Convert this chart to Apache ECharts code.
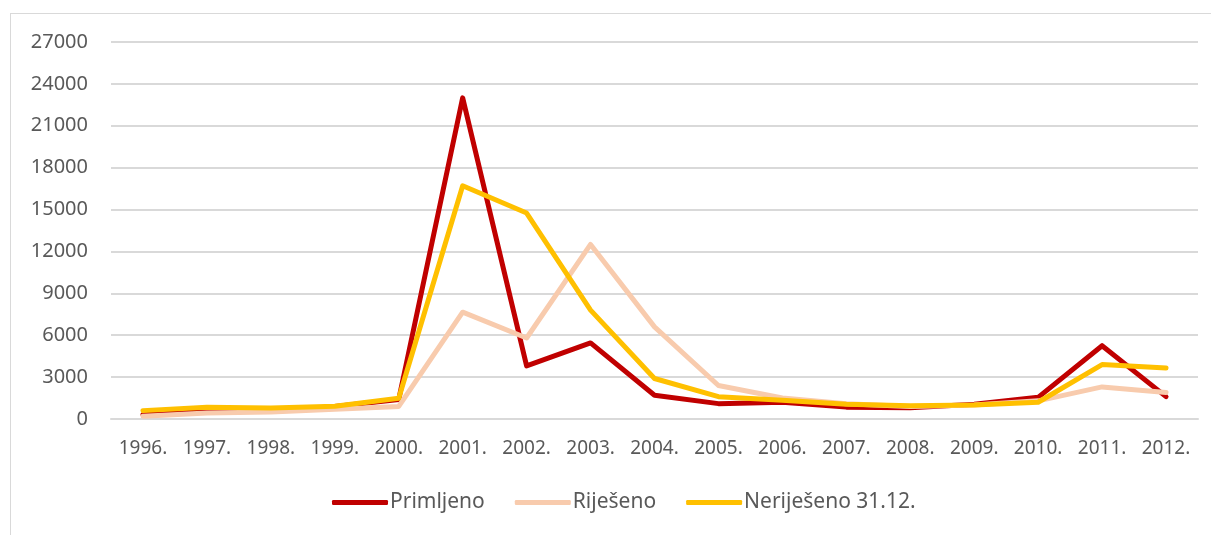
<!DOCTYPE html>
<html>
<head>
<meta charset="utf-8">
<script src="https://cdn.jsdelivr.net/npm/echarts@6/dist/echarts.min.js"></script>
<style>
  html, body { margin: 0; padding: 0; background: #fff; }
  #frame { position: absolute; left: 10px; top: 13px; width: 1220px; height: 540px; border: 1px solid #d9d9d9; }
  #main { position: absolute; left: 0; top: 0; width: 1211px; height: 535px; }
</style>
</head>
<body>
<div id="frame"></div>
<div id="main"></div>
<script>
// years on the x axis
const years = ["1996.", "1997.", "1998.", "1999.", "2000.", "2001.", "2002.", "2003.", "2004.",
  "2005.", "2006.", "2007.", "2008.", "2009.", "2010.", "2011.", "2012."];

const primljeno = [300, 550, 550, 900, 1400, 23000, 3800, 5450, 1700, 1100, 1200, 850, 800, 1050, 1550, 5250, 1600];
const rijeseno = [200, 430, 500, 700, 900, 7650, 5800, 12500, 6600, 2400, 1500, 1100, 900, 1000, 1300, 2300, 1900];
const nerijeseno = [600, 850, 780, 920, 1480, 16700, 14750, 7800, 2900, 1600, 1350, 1050, 950, 1000, 1200, 3900, 3650];

const names = ["Primljeno", "Riješeno", "Neriješeno 31.12."];
const colors = ["#C00000", "#F8CBAD", "#FFC000"];

const chart = echarts.init(document.getElementById("main"));

function lineSeries(name, data) {
  return {
    name: name,
    type: "line",
    data: data,
    symbol: "none",
    lineStyle: { width: 5, cap: "round", join: "round" },
    emphasis: { disabled: true }
  };
}

chart.setOption({
  animation: false,
  color: colors,
  textStyle: { fontFamily: "Noto Sans", color: "#595959" },
  grid: { left: 111, right: 13, top: 42, bottom: 116 },
  legend: {
    data: names,
    bottom: 17,
    left: 327,
    icon: "roundRect",
    itemWidth: 56,
    itemHeight: 5,
    itemGap: 30,
    textStyle: { fontSize: 21, color: "#595959", padding: [0, 0, 0, -3] }
  },
  xAxis: {
    type: "category",
    data: years,
    boundaryGap: true,
    axisLine: { lineStyle: { color: "#d9d9d9", width: 2 } },
    axisTick: { show: false },
    axisLabel: { fontSize: 19, color: "#595959", margin: 20, interval: 0 }
  },
  yAxis: {
    type: "value",
    min: 0,
    max: 27000,
    interval: 3000,
    axisLine: { show: false },
    axisTick: { show: false },
    splitLine: { lineStyle: { color: "#d9d9d9", width: 2 } },
    axisLabel: { fontSize: 20, color: "#595959", margin: 23, formatter: v => String(v) }
  },
  series: [
    lineSeries(names[0], primljeno),
    lineSeries(names[1], rijeseno),
    lineSeries(names[2], nerijeseno)
  ]
});
</script>
</body>
</html>
